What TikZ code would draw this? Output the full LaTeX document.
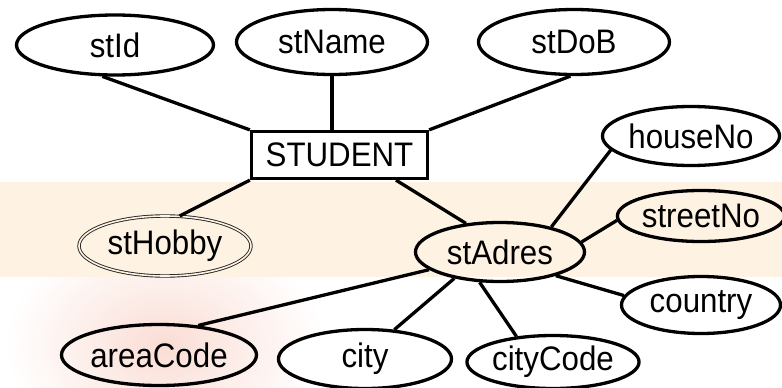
\documentclass[tikz,border=0pt]{standalone}
\usepackage{fontspec}
\setmainfont{Liberation Sans}[FakeStretch=0.92]
\usetikzlibrary{shapes.geometric}
\definecolor{bandbg}{HTML}{FEF3E2}
\definecolor{pinkbg}{HTML}{FADDD4}
\begin{document}
\begin{tikzpicture}[x=1pt,y=-1pt,
  attr/.style={ellipse, draw, line width=3.3pt, inner sep=0pt, font=\fontsize{34}{36}\selectfont},
  multi/.style={ellipse, draw=black!85, double=bandbg, double distance=1.6pt, line width=0.9pt, inner sep=0pt, font=\fontsize{34}{36}\selectfont},
  ent/.style={rectangle, draw, fill=white, line width=3.3pt, inner sep=0pt, font=\fontsize{34}{36}\selectfont},
  link/.style={line width=3.3pt}]
\useasboundingbox (0,0) rectangle (782,388);
% background
\fill[white] (0,0) rectangle (782,388);
\shade[inner color=pinkbg, outer color=white] (165,345) ellipse [x radius=160pt, y radius=115pt];
\fill[bandbg] (0,182) rectangle (782,277);
% nodes
\node[attr, fill=white, minimum width=197pt, minimum height=60pt] (stId) at (115,45) {stId};
\node[attr, fill=white, minimum width=191pt, minimum height=65pt] (stName) at (332,42) {stName};
\node[attr, fill=white, minimum width=191pt, minimum height=65pt] (stDoB) at (574,42) {stDoB};
\node[ent, minimum width=176pt, minimum height=47pt] (student) at (339.5,155) {STUDENT};
\node[attr, fill=white, minimum width=169pt, minimum height=59pt] (houseNo) at (691,136) {houseNo};
\node[attr, minimum width=159pt, minimum height=51pt] (streetNo) at (701,216) {streetNo};
\node[attr, minimum width=169pt, minimum height=59pt] (stAdres) at (500,252) {stAdres};
\node[multi, minimum width=172pt, minimum height=60pt] (stHobby) at (165,246) {stHobby};
\node[attr, fill=white, minimum width=159pt, minimum height=57pt] (country) at (701,305) {country};
\node[attr, minimum width=195pt, minimum height=61pt] (areaCode) at (159,355) {areaCode};
\node[attr, fill=white, minimum width=173pt, minimum height=59pt] (city) at (365,359) {city};
\node[attr, fill=white, minimum width=163pt, minimum height=53pt] (cityCode) at (553,362) {cityCode};
% connectors
\draw[link] (stId.-112) -- (student.north west);
\draw[link] (stName.south) -- (stName.south |- student.north);
\draw[link] (stDoB.-96) -- (student.north east);
\draw[link] (student.south west) -- (stHobby.64);
\draw[link] (student.-24) -- (stAdres.140);
\draw[link] (stAdres.26) -- (houseNo.190);
\draw[link] (stAdres.7) -- (streetNo.183);
\draw[link] (stAdres.-23) -- (country.173);
\draw[link] (stAdres.-124) -- (cityCode.145);
\draw[link] (stAdres.-150) -- (city.45);
\draw[link] (stAdres.-166) -- (areaCode.37);
\end{tikzpicture}
\end{document}
